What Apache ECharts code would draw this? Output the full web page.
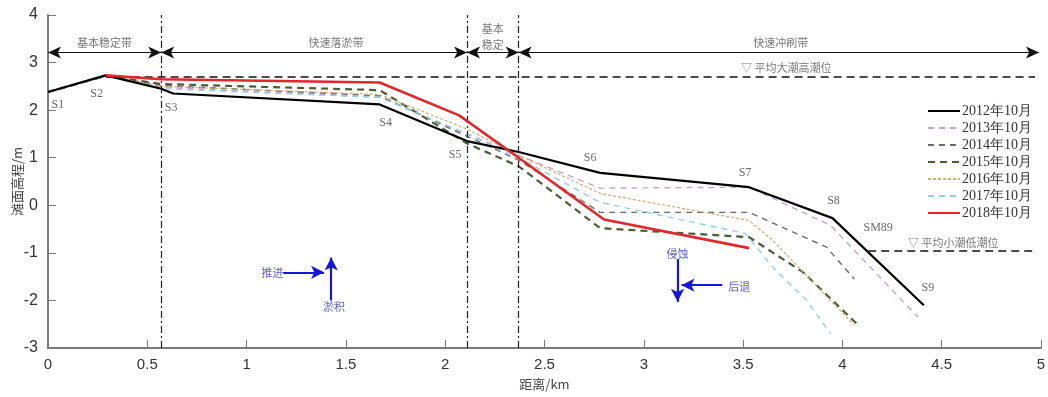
<!DOCTYPE html>
<html>
<head>
<meta charset="utf-8">
<script src="https://cdn.jsdelivr.net/npm/echarts@6/dist/echarts.min.js"></script>
<style>
  html, body { margin: 0; padding: 0; background: #fff; }
  #chart { width: 1048px; height: 397px; }
</style>
</head>
<body>
<div id="chart"></div>
<script>
// profile surveys, distance (km) vs elevation (m)
const dist2012 = [0, 0.29, 0.57, 0.63, 1.67, 2.11, 2.37, 2.78, 3.53, 3.95, 4.41];
const elev2012 = [2.38, 2.73, 2.45, 2.35, 2.12, 1.35, 1.12, 0.68, 0.38, -0.27, -2.1];
const dist2013 = [0, 0.29, 0.57, 1.67, 2.11, 2.37, 2.78, 3.53, 3.94, 4.38];
const elev2013 = [2.38, 2.72, 2.48, 2.27, 1.5, 1.05, 0.36, 0.38, -0.42, -2.35];
const dist2014 = [0, 0.29, 0.57, 1.67, 2.11, 2.37, 2.78, 3.53, 3.92, 4.06];
const elev2014 = [2.38, 2.72, 2.52, 2.3, 1.45, 0.95, -0.15, -0.15, -0.88, -1.55];
const dist2015 = [0, 0.29, 0.57, 1.67, 2.11, 2.37, 2.78, 3.53, 3.8, 4.07];
const elev2015 = [2.38, 2.72, 2.55, 2.42, 1.3, 0.82, -0.48, -0.67, -1.4, -2.48];
const dist2016 = [0, 0.29, 0.57, 1.67, 2.11, 2.37, 2.78, 3.53, 3.65, 3.9, 4.06];
const elev2016 = [2.38, 2.72, 2.5, 2.33, 1.6, 1.05, 0.25, -0.32, -0.74, -1.83, -2.52];
const dist2017 = [0, 0.29, 0.57, 1.67, 2.11, 2.37, 2.78, 3.51, 3.65, 3.82, 3.94];
const elev2017 = [2.38, 2.72, 2.45, 2.27, 1.5, 1.0, 0.06, -0.59, -1.3, -2.0, -2.69];
const dist2018 = [0.29, 0.57, 1.67, 2.07, 2.37, 2.8, 3.53];
const elev2018 = [2.73, 2.65, 2.58, 1.89, 1.0, -0.3, -0.9];

const xTicks = ['0', '0.5', '1', '1.5', '2', '2.5', '3', '3.5', '4', '4.5', '5'];

// zone boundaries and zone names
const zoneEdges = [0, 0.57, 2.11, 2.37, 4.99];
const zoneArrowLevel = 3.21;
const zoneNames = ['基本稳定带', '快速落淤带', '基本\n稳定', '快速冲刷带'];
const zoneNameX = [0.285, 1.45, 2.24, 3.69];
const zoneNameY = [3.42, 3.42, 3.55, 3.42];

// tide levels
const highTide = 2.7, highTideFrom = 0.29, highTideTo = 4.97;
const lowTide = -0.95, lowTideFrom = 4.13, lowTideTo = 4.98;
const tideNames = ['▽ 平均大潮高潮位', '▽ 平均小潮低潮位'];
const tideNameX = [3.49, 4.33];
const tideNameY = [2.88, -0.78];

// station labels
const stations = ['S1', 'S2', 'S3', 'S4', 'S5', 'S6', 'S7', 'S8', 'SM89', 'S9'];
const stationX = [0.05, 0.245, 0.62, 1.7, 2.05, 2.73, 3.51, 3.955, 4.18, 4.43];
const stationY = [2.12, 2.35, 2.04, 1.74, 1.05, 1.0, 0.69, 0.1, -0.48, -1.74];

// blue trend notes
const notes = ['推进', '淤积', '侵蚀', '后退'];
const noteX = [1.13, 1.44, 3.17, 3.48];
const noteY = [-1.41, -2.14, -1.03, -1.72];
const noteArrows = [
  [[1.184, -1.41], [1.39, -1.41]],
  [[1.426, -2.0], [1.426, -1.1]],
  [[3.17, -1.13], [3.17, -2.03]],
  [[3.395, -1.68], [3.19, -1.68]]
];

const zip = (xs, ys) => xs.map((x, i) => [x, ys[i]]);

function profile(name, xs, ys, color, width, type, z) {
  return {
    name, type: 'line', data: zip(xs, ys), showSymbol: false, symbol: 'none', z,
    lineStyle: { color, width, type }, itemStyle: { color }
  };
}

const cjk = '"Noto Sans CJK SC", sans-serif';
const serif = '"Liberation Serif", "DejaVu Serif", serif';

function textSeries(texts, xs, ys, style) {
  return {
    type: 'scatter', symbolSize: 0, silent: true, z: 20,
    data: texts.map((t, i) => ({ value: [xs[i], ys[i]], name: t })),
    label: Object.assign({ show: true, position: 'inside', formatter: p => p.name }, style)
  };
}

const chart = echarts.init(document.getElementById('chart'));

const zoneSeries = textSeries(zoneNames, zoneNameX, zoneNameY,
  { color: '#555', fontSize: 11, fontFamily: cjk, lineHeight: 16 });
zoneSeries.markLine = {
  silent: true, symbol: ['arrow', 'arrow'], symbolSize: [9, 13], label: { show: false },
  lineStyle: { color: '#111', width: 1.1, type: 'solid' },
  data: zoneEdges.slice(0, -1).map((x, i) => [{ coord: [x, zoneArrowLevel] }, { coord: [zoneEdges[i + 1], zoneArrowLevel] }])
};

const tideSeries = textSeries(tideNames, tideNameX, tideNameY,
  { color: '#555', fontSize: 11, fontFamily: cjk, align: 'left' });
tideSeries.markLine = {
  silent: true, symbol: 'none', label: { show: false },
  data: [
    [{ coord: [highTideFrom, highTide] }, { coord: [highTideTo, highTide] }],
    [{ coord: [lowTideFrom, lowTide] }, { coord: [lowTideTo, lowTide] }],
    ...zoneEdges.slice(1, 4).map(x => [
      { coord: [x, -3], lineStyle: { type: [7, 3, 2, 3], width: 1.2, color: '#222' } },
      { coord: [x, 4] }
    ])
  ],
  lineStyle: { color: '#111', width: 1.5, type: [8, 5] }
};

const stationSeries = textSeries(stations, stationX, stationY,
  { color: '#444', fontSize: 12, fontFamily: serif });

const noteSeries = textSeries(notes, noteX, noteY,
  { color: '#3535c0', fontSize: 11, fontFamily: cjk });
noteSeries.markLine = {
  silent: true, symbol: ['none', 'arrow'], symbolSize: [10, 13], label: { show: false },
  lineStyle: { color: '#1616d8', width: 2.2, type: 'solid' },
  data: noteArrows.map(a => [{ coord: a[0] }, { coord: a[1] }])
};

chart.setOption({
  animation: false,
  backgroundColor: '#fff',
  grid: { left: 48, right: 7, top: 15, bottom: 49, outerBoundsMode: 'none', containLabel: false },
  legend: {
    data: ['2012年10月', '2013年10月', '2014年10月', '2015年10月', '2016年10月', '2017年10月', '2018年10月'],
    orient: 'vertical', left: 922, top: 99, itemWidth: 32, itemHeight: 12, itemGap: 3,
    itemStyle: { opacity: 0 },
    textStyle: { fontFamily: serif, fontSize: 14, color: '#333', padding: [0, 0, 0, -3] }
  },
  xAxis: {
    type: 'value', min: 0, max: 5, interval: 0.5,
    name: '距离/km', nameLocation: 'middle', nameGap: 30,
    nameTextStyle: { fontFamily: cjk, fontSize: 13, color: '#444' },
    axisLine: { onZero: false, lineStyle: { color: '#7a7a7a', width: 2 } },
    axisTick: { inside: true, length: 8, lineStyle: { color: '#7a7a7a' } },
    axisLabel: { fontFamily: '"Liberation Sans", Arial, sans-serif', fontSize: 15, color: '#333', margin: 9,
      formatter: v => xTicks[Math.round(v * 2)] },
    splitLine: { show: false }
  },
  yAxis: {
    type: 'value', min: -3, max: 4, interval: 1,
    name: '滩面高程/m', nameLocation: 'middle', nameGap: 24, nameMoveOverlap: false,
    nameTextStyle: { fontFamily: cjk, fontSize: 13, color: '#444' },
    axisLine: { show: true, onZero: false, lineStyle: { color: '#7a7a7a', width: 2 } },
    axisTick: { show: true, inside: true, length: 8, lineStyle: { color: '#7a7a7a' } },
    axisLabel: { fontFamily: '"Liberation Sans", Arial, sans-serif', fontSize: 16, color: '#333', margin: 10 },
    splitLine: { show: false }
  },
  series: [
    profile('2013年10月', dist2013, elev2013, '#c8a2cf', 1.4, [6, 5], 3),
    profile('2014年10月', dist2014, elev2014, '#6a6a6a', 1.4, [6, 5], 3),
    profile('2015年10月', dist2015, elev2015, '#4a5e38', 2.2, [7, 5], 3),
    profile('2016年10月', dist2016, elev2016, '#d3ac6e', 1.2, [3, 2], 3),
    profile('2017年10月', dist2017, elev2017, '#8fd0e6', 1.4, [6, 5], 3),
    profile('2012年10月', dist2012, elev2012, '#000000', 2.2, 'solid', 4),
    profile('2018年10月', dist2018, elev2018, '#e3262a', 2.6, 'solid', 5),
    zoneSeries, tideSeries, stationSeries, noteSeries
  ]
});
</script>
</body>
</html>
